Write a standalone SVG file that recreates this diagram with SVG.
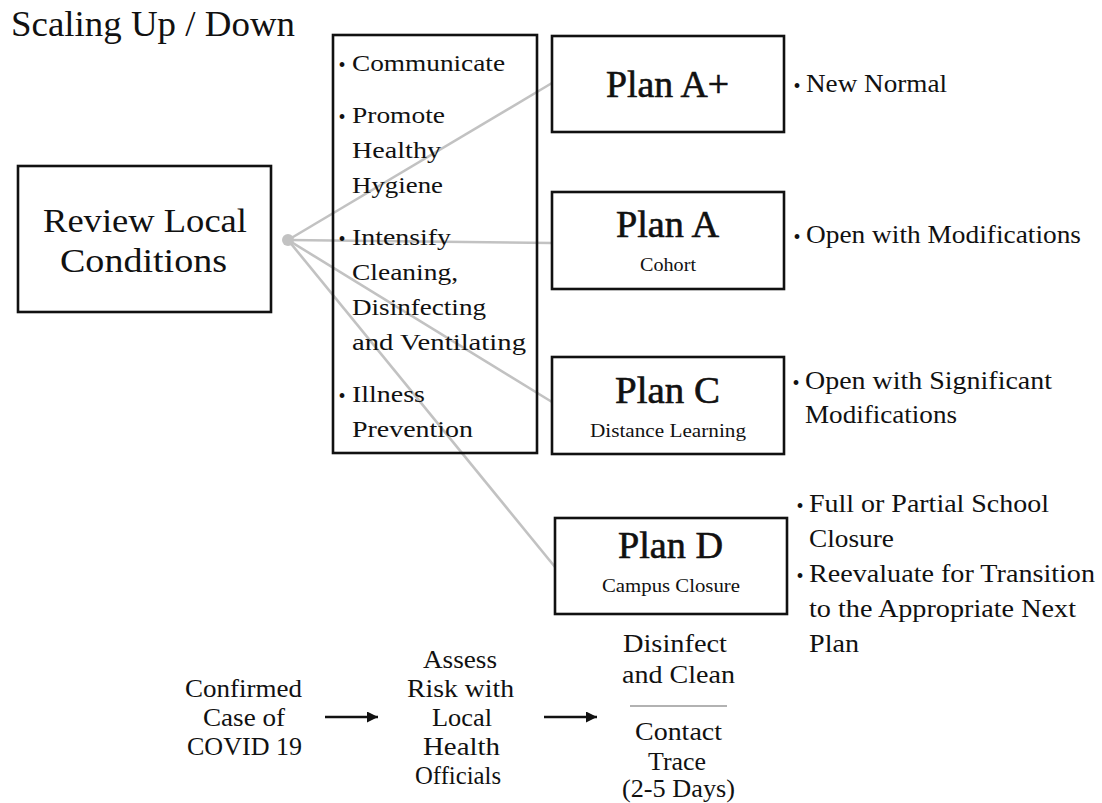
<svg xmlns="http://www.w3.org/2000/svg" width="1102" height="803" viewBox="0 0 1102 803" font-family="'Liberation Serif', 'DejaVu Serif', 'Times New Roman', serif">
<style>
text{fill:#111}
.box{fill:none;stroke:#111;stroke-width:2.6}
.conn{stroke:#c2c2c2;stroke-width:2.6;fill:none}
.title{font-size:35px}
.big{font-size:33px}
.li{font-size:24px}
.plan{font-size:37px;stroke:#111;stroke-width:0.6}
.sub{font-size:18.5px}
.rt{font-size:25px}
.bt{font-size:25px}
.bul{font-size:20px;text-anchor:middle}
.arr{stroke:#111;stroke-width:2.5}
</style>
<defs>
<marker id="ah" viewBox="0 0 10 10" refX="10" refY="5" markerWidth="13" markerHeight="11" markerUnits="userSpaceOnUse" orient="auto">
<path d="M0,0 L10,5 L0,10 z" fill="#111"/>
</marker>
</defs>

<text class="title" x="11" y="36" textLength="284" lengthAdjust="spacingAndGlyphs">Scaling Up / Down</text>

<g id="connectors">
<line class="conn" x1="288" y1="240" x2="552" y2="83"/>
<line class="conn" x1="288" y1="240" x2="552" y2="243"/>
<line class="conn" x1="288" y1="240" x2="552" y2="402"/>
<line class="conn" x1="288" y1="240" x2="555" y2="567"/>
<circle cx="288" cy="240" r="6" fill="#c2c2c2"/>
<line class="arr" x1="325" y1="717" x2="378" y2="717" marker-end="url(#ah)"/>
<line class="arr" x1="544" y1="717" x2="597" y2="717" marker-end="url(#ah)"/>
<line x1="630" y1="706" x2="727" y2="706" stroke="#999" stroke-width="1.5"/>
</g>

<g id="review">
<rect class="box" x="18" y="166" width="253" height="146"/>
<text class="big" x="43" y="232" textLength="204" lengthAdjust="spacingAndGlyphs">Review Local</text>
<text class="big" x="60" y="272" textLength="167" lengthAdjust="spacingAndGlyphs">Conditions</text>
</g>

<g id="actions">
<rect class="box" x="333" y="35" width="204" height="418"/>
<text class="bul" x="342" y="72">•</text>
<text class="li" x="352" y="71" textLength="153" lengthAdjust="spacingAndGlyphs">Communicate</text>
<text class="bul" x="342" y="124">•</text>
<text class="li" x="352" y="123" textLength="93" lengthAdjust="spacingAndGlyphs">Promote</text>
<text class="li" x="352" y="158" textLength="89" lengthAdjust="spacingAndGlyphs">Healthy</text>
<text class="li" x="352" y="193" textLength="91" lengthAdjust="spacingAndGlyphs">Hygiene</text>
<text class="bul" x="342" y="246">•</text>
<text class="li" x="352" y="245" textLength="99" lengthAdjust="spacingAndGlyphs">Intensify</text>
<text class="li" x="352" y="280" textLength="106" lengthAdjust="spacingAndGlyphs">Cleaning,</text>
<text class="li" x="352" y="315" textLength="134" lengthAdjust="spacingAndGlyphs">Disinfecting</text>
<text class="li" x="352" y="350" textLength="174" lengthAdjust="spacingAndGlyphs">and Ventilating</text>
<text class="bul" x="342" y="403">•</text>
<text class="li" x="352" y="402" textLength="73" lengthAdjust="spacingAndGlyphs">Illness</text>
<text class="li" x="352" y="437" textLength="121" lengthAdjust="spacingAndGlyphs">Prevention</text>
</g>

<g id="planAplus">
<rect class="box" x="552" y="36" width="232" height="96"/>
<text class="plan" x="606" y="97" textLength="123" lengthAdjust="spacingAndGlyphs">Plan A+</text>
<text class="bul" x="797" y="93">•</text>
<text class="rt" x="806" y="92" textLength="141" lengthAdjust="spacingAndGlyphs">New Normal</text>
</g>

<g id="planA">
<rect class="box" x="552" y="192" width="232" height="97"/>
<text class="plan" x="616" y="237" textLength="103" lengthAdjust="spacingAndGlyphs">Plan A</text>
<text class="sub" x="640" y="271" textLength="56" lengthAdjust="spacingAndGlyphs">Cohort</text>
<text class="bul" x="797" y="244">•</text>
<text class="rt" x="806" y="243" textLength="275" lengthAdjust="spacingAndGlyphs">Open with Modifications</text>
</g>

<g id="planC">
<rect class="box" x="552" y="357" width="232" height="97"/>
<text class="plan" x="615" y="403" textLength="105" lengthAdjust="spacingAndGlyphs">Plan C</text>
<text class="sub" x="590" y="437" textLength="156" lengthAdjust="spacingAndGlyphs">Distance Learning</text>
<text class="bul" x="796" y="390">•</text>
<text class="rt" x="805" y="389" textLength="247" lengthAdjust="spacingAndGlyphs">Open with Significant</text>
<text class="rt" x="805" y="423" textLength="152" lengthAdjust="spacingAndGlyphs">Modifications</text>
</g>

<g id="planD">
<rect class="box" x="555" y="518" width="232" height="96"/>
<text class="plan" x="618" y="558" textLength="105" lengthAdjust="spacingAndGlyphs">Plan D</text>
<text class="sub" x="602" y="592" textLength="138" lengthAdjust="spacingAndGlyphs">Campus Closure</text>
<text class="bul" x="800" y="513">•</text>
<text class="rt" x="809" y="512" textLength="240" lengthAdjust="spacingAndGlyphs">Full or Partial School</text>
<text class="rt" x="809" y="547" textLength="85" lengthAdjust="spacingAndGlyphs">Closure</text>
<text class="bul" x="800" y="583">•</text>
<text class="rt" x="809" y="582" textLength="286" lengthAdjust="spacingAndGlyphs">Reevaluate for Transition</text>
<text class="rt" x="809" y="617" textLength="267" lengthAdjust="spacingAndGlyphs">to the Appropriate Next</text>
<text class="rt" x="809" y="652" textLength="50" lengthAdjust="spacingAndGlyphs">Plan</text>
</g>

<g id="confirmed">
<text class="bt" x="185" y="697" textLength="117" lengthAdjust="spacingAndGlyphs">Confirmed</text>
<text class="bt" x="203" y="726" textLength="82" lengthAdjust="spacingAndGlyphs">Case of</text>
<text class="bt" x="187" y="755" textLength="115" lengthAdjust="spacingAndGlyphs">COVID 19</text>
</g>

<g id="assess">
<text class="bt" x="423" y="668" textLength="74" lengthAdjust="spacingAndGlyphs">Assess</text>
<text class="bt" x="407" y="697" textLength="107" lengthAdjust="spacingAndGlyphs">Risk with</text>
<text class="bt" x="432" y="726" textLength="60" lengthAdjust="spacingAndGlyphs">Local</text>
<text class="bt" x="423" y="755" textLength="77" lengthAdjust="spacingAndGlyphs">Health</text>
<text class="bt" x="415" y="784" textLength="86" lengthAdjust="spacingAndGlyphs">Officials</text>
</g>

<g id="disinfect">
<text class="bt" x="623" y="652" textLength="104" lengthAdjust="spacingAndGlyphs">Disinfect</text>
<text class="bt" x="622" y="683" textLength="113" lengthAdjust="spacingAndGlyphs">and Clean</text>
<text class="bt" x="635" y="740" textLength="87" lengthAdjust="spacingAndGlyphs">Contact</text>
<text class="bt" x="648" y="770" textLength="58" lengthAdjust="spacingAndGlyphs">Trace</text>
<text class="bt" x="622" y="797" textLength="113" lengthAdjust="spacingAndGlyphs">(2-5 Days)</text>
</g>
</svg>
